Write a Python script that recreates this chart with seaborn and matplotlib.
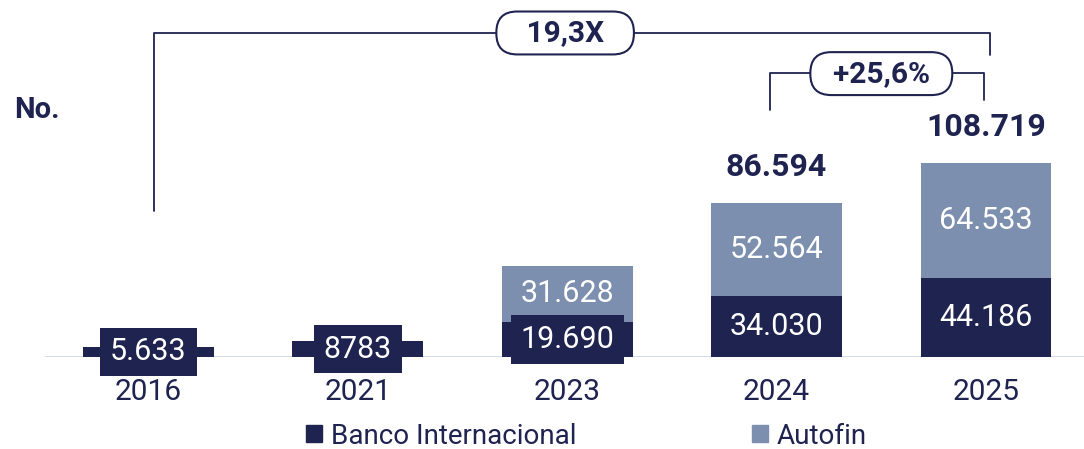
import matplotlib
matplotlib.use("Agg")
import matplotlib.pyplot as plt
from matplotlib.patches import Patch
import seaborn as sns

# data
years = ["2016", "2021", "2023", "2024", "2025"]
banco = [5633, 8783, 19690, 34030, 44186]
autofin = [0, 0, 31628, 52564, 64533]
banco_labels = ["5.633", "8783", "19.690", "34.030", "44.186"]
autofin_labels = ["", "", "31.628", "52.564", "64.533"]
total_labels = ["", "", "", "86.594", "108.719"]
totals = [b + a for b, a in zip(banco, autofin)]

DARK = "#1f2350"
LIGHT = "#7c8faf"
AXIS = "#d3d7ec"

sns.set_theme(style="white")
plt.rcParams['font.family'] = ['Roboto', 'DejaVu Sans']

fig = plt.figure(figsize=(10.84, 4.49), dpi=100)
ax = fig.add_axes([45/1084, 92/449, 1039/1084, 357/449])

sns.barplot(x=years, y=totals, color=LIGHT, saturation=1, width=0.625,
            linewidth=0, ax=ax, zorder=2)
sns.barplot(x=years, y=banco, color=DARK, saturation=1, width=0.625,
            linewidth=0, ax=ax, zorder=3)

ax.set_xlim(-0.494, 4.468)
ax.set_ylim(0, 200300)
ax.axhline(0, color=AXIS, lw=2, zorder=1)
for s in ax.spines.values():
    s.set_visible(False)
ax.set_yticks([])
ax.set_xlabel("")
ax.set_ylabel("")
ax.tick_params(axis="x", length=0, pad=15, labelsize=21.5, labelcolor=DARK)

n = len(years)
dark_bars = ax.patches[n:]

for i, p in enumerate(dark_bars):
    cx = p.get_x() + p.get_width() / 2
    ax.text(cx, banco[i] / 2, banco_labels[i], ha="center", va="center",
            color="white", fontsize=22, zorder=5,
            bbox=dict(boxstyle="square,pad=0.32", fc=DARK, ec="none"))
    if autofin_labels[i]:
        ax.text(cx, banco[i] + autofin[i] / 2, autofin_labels[i], ha="center",
                va="center", color="white", fontsize=22, zorder=5)
    if total_labels[i]:
        ax.annotate(total_labels[i], (cx, totals[i]), xytext=(0, 36),
                    textcoords="offset pixels", ha="center", va="center",
                    color=DARK, fontsize=23, fontweight="bold")

# growth brackets
lk = dict(color=DARK, lw=1.3, clip_on=False, zorder=4)
ax.plot([0.026, 0.026, 4.02, 4.02], [81900, 181800, 181800, 169400], **lk)
ax.plot([2.97, 2.97, 3.99, 3.99], [138600, 159300, 159300, 144200], **lk)
pill = dict(boxstyle="round,pad=0.25,rounding_size=0.7", fc="white",
            ec=DARK, lw=1.5)
ax.text(1.99, 181800, "   19,3X   ", ha="center", va="center", color=DARK,
        fontsize=21.5, fontweight="bold", bbox=pill, zorder=6)
ax.text(3.50, 159000, "  +25,6%  ", ha="center", va="center", color=DARK,
        fontsize=21.5, fontweight="bold", bbox=pill, zorder=6)

fig.text(14/1084, 1 - 110/449, "No.", ha="left", va="center", color=DARK,
         fontsize=21, fontweight="bold")

handles = [Patch(color=DARK, label="Banco Internacional"),
           Patch(color=LIGHT, label="Autofin")]
fig.legend(handles=handles, loc="center", bbox_to_anchor=(0.541, 1 - 436/449),
           ncol=2, frameon=False, fontsize=20, labelcolor=DARK,
           handlelength=0.58, handleheight=0.58, handletextpad=0.33,
           columnspacing=6.3, borderpad=0.2)

fig.savefig("out.png", dpi=100)
